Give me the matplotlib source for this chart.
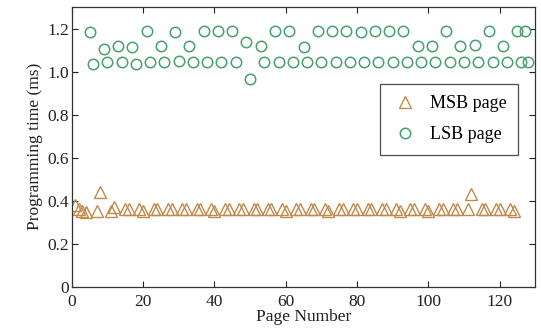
import matplotlib
matplotlib.use('Agg')
import matplotlib.pyplot as plt

# MSB pages (1-indexed page numbers) and their programming time (ms)
msb_pages = [1, 2, 3, 4, 7, 8, 11, 12, 15, 16, 19, 20, 23, 24, 27, 28,
             31, 32, 35, 36, 39, 40, 43, 44, 47, 48, 51, 52, 55, 56, 59, 60,
             63, 64, 67, 68, 71, 72, 75, 76, 79, 80, 83, 84, 87, 88, 91, 92,
             95, 96, 99, 100, 103, 104, 107, 108, 111, 112, 115, 116, 119, 120, 123, 124]
msb_time = [0.38, 0.365, 0.355, 0.35, 0.353, 0.44, 0.353, 0.372, 0.365, 0.365, 0.365, 0.355, 0.365, 0.365, 0.365, 0.365,
            0.365, 0.365, 0.365, 0.365, 0.365, 0.355, 0.365, 0.365, 0.365, 0.365, 0.365, 0.365, 0.365, 0.365, 0.365, 0.355,
            0.365, 0.365, 0.365, 0.365, 0.365, 0.355, 0.365, 0.365, 0.365, 0.365, 0.365, 0.365, 0.365, 0.365, 0.365, 0.355,
            0.365, 0.365, 0.365, 0.355, 0.365, 0.365, 0.365, 0.365, 0.365, 0.435, 0.365, 0.365, 0.365, 0.365, 0.365, 0.355]

# LSB pages and their programming time (ms)
lsb_pages = [5, 6, 9, 10, 13, 14, 17, 18, 21, 22, 25, 26, 29, 30, 33, 34,
             37, 38, 41, 42, 45, 46, 49, 50, 53, 54, 57, 58, 61, 62, 65, 66,
             69, 70, 73, 74, 77, 78, 81, 82, 85, 86, 89, 90, 93, 94, 97, 98,
             101, 102, 105, 106, 109, 110, 113, 114, 117, 118, 121, 122, 125, 126, 127, 128]
lsb_time = [1.185, 1.04, 1.11, 1.045, 1.12, 1.045, 1.115, 1.04, 1.19, 1.045, 1.12, 1.045, 1.185, 1.05, 1.12, 1.045,
            1.19, 1.045, 1.19, 1.045, 1.19, 1.045, 1.14, 0.97, 1.12, 1.045, 1.19, 1.045, 1.19, 1.045, 1.115, 1.045,
            1.19, 1.045, 1.19, 1.045, 1.19, 1.045, 1.185, 1.045, 1.19, 1.045, 1.19, 1.045, 1.19, 1.045, 1.12, 1.045,
            1.12, 1.045, 1.19, 1.045, 1.12, 1.045, 1.125, 1.045, 1.19, 1.045, 1.12, 1.045, 1.19, 1.045, 1.19, 1.045]

x_ticks = [0, 20, 40, 60, 80, 100, 120]
y_ticks = [0, 0.2, 0.4, 0.6, 0.8, 1.0, 1.2]
y_tick_labels = ['0', '0.2', '0.4', '0.6', '0.8', '1.0', '1.2']

plt.rcParams['font.family'] = ['Liberation Serif', 'DejaVu Serif']
plt.rcParams['font.size'] = 12.5

fig = plt.figure(figsize=(5.41, 3.31), dpi=100)
ax = fig.add_axes([0.1325, 0.133, 0.857, 0.847])

msb_color = '#c08a4c'
lsb_color = '#45a06c'

ax.plot(msb_pages, msb_time, linestyle='none', marker='^', markersize=8,
        markerfacecolor='none', markeredgecolor=msb_color, markeredgewidth=1.0,
        label='MSB page')
ax.plot(lsb_pages, lsb_time, linestyle='none', marker='o', markersize=7.5,
        markerfacecolor='none', markeredgecolor=lsb_color, markeredgewidth=1.1,
        label='LSB page')

ax.set_xlim(0, 130)
ax.set_ylim(0, 1.305)
ax.set_xticks(x_ticks)
ax.set_yticks(y_ticks)
ax.set_yticklabels(y_tick_labels)
ax.tick_params(direction='in', top=True, right=True, length=4, width=0.8,
               colors='#222222', pad=2)
ax.tick_params(axis='x', pad=5)
for sp in ax.spines.values():
    sp.set_color('#333333')
    sp.set_linewidth(0.9)

ax.set_xlabel('Page Number', labelpad=-1, color='#222222')
ax.set_ylabel('Programming time (ms)', labelpad=3, color='#222222')

leg = ax.legend(loc='upper left', bbox_to_anchor=(0.665, 0.725), frameon=True,
                fancybox=False, edgecolor='#222222', borderpad=0.65,
                labelspacing=0.75, handletextpad=0.6, handlelength=1.5,
                borderaxespad=0, fontsize=13)
leg.get_frame().set_linewidth(0.9)

fig.savefig('out.png', dpi=100)
